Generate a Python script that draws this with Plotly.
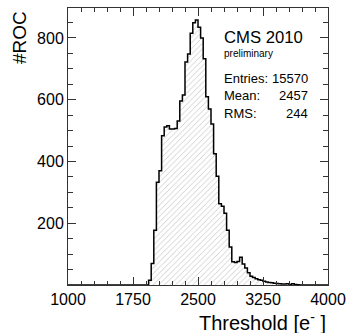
import plotly.graph_objects as go

# Histogram: 100 bins from 1000 to 4000 (bin width 30); counts
bin_lo = 1000
bin_hi = 4000
n_bins = 100
counts_nonzero_start = 1930  # first filled bin (left edge)
counts = [15, 70, 177, 333, 370, 483, 512, 516, 505, 505,
          507, 531, 596, 615, 722, 748, 815, 849, 858, 835,
          800, 733, 610, 570, 521, 425, 352, 263, 255, 232,
          177, 123, 75, 73, 76, 90, 68, 55, 40, 28,
          24, 20, 17, 15, 12, 10, 8, 7, 6, 5,
          4, 3, 3, 4, 2, 4, 2, 1]

x_ticks = [1000, 1750, 2500, 3250, 4000]
y_ticks = [200, 400, 600, 800]

stats_labels = ["Entries:", "Mean:", "RMS:"]
stats_values = ["15570", "2457", "244"]

width = (bin_hi - bin_lo) / n_bins
edges = [bin_lo + i * width for i in range(n_bins + 1)]
first = round((counts_nonzero_start - bin_lo) / width)
full = [0] * n_bins
for i, c in enumerate(counts):
    full[first + i] = c
ys = full + [full[-1]]

FONT = "Liberation Sans, Arial, Helvetica, sans-serif"

fig = go.Figure()
fig.add_trace(go.Scatter(
    x=edges, y=ys, mode="lines", line_shape="hv",
    line=dict(color="black", width=1.5),
    fill="tozeroy",
    fillcolor="rgba(0,0,0,0)",
    fillpattern=dict(shape="/", fgcolor="#8a8a8a", bgcolor="white", size=4, solidity=0.2),
    hoverinfo="skip", showlegend=False,
))

axis_common = dict(
    showline=True, linecolor="#333", linewidth=1, mirror="ticks",
    ticks="inside", tickcolor="#333", tickwidth=1,
    showgrid=False, zeroline=False,
    tickfont=dict(family=FONT, size=16, color="black"),
)
fig.update_xaxes(range=[bin_lo, bin_hi], tickvals=x_ticks, ticklen=8,
                 minor=dict(ticks="inside", ticklen=4, dtick=150, tick0=1000, tickcolor="#333", showgrid=False),
                 **axis_common)
fig.update_yaxes(range=[0, 897], tickvals=y_ticks, ticklen=8,
                 minor=dict(ticks="inside", ticklen=5, dtick=50, tick0=0, tickcolor="#333", showgrid=False),
                 **axis_common)

ann = []
ann.append(dict(text="#ROC", x=-0.187, y=0.996, xref="paper", yref="paper",
                xanchor="center", yanchor="top", textangle=-90, showarrow=False,
                font=dict(family=FONT, size=19, color="black")))
ann.append(dict(text="Threshold [e<sup>-</sup> ]", x=1.0, y=-0.13, xref="paper", yref="paper",
                xanchor="right", yanchor="middle", showarrow=False,
                font=dict(family=FONT, size=20, color="black")))
ann.append(dict(text="CMS 2010", x=0.5925, y=0.892, xref="paper", yref="paper",
                xanchor="left", yanchor="middle", showarrow=False,
                font=dict(family=FONT, size=16.7, color="black")))
ann.append(dict(text="preliminary", x=0.5925, y=0.834, xref="paper", yref="paper",
                xanchor="left", yanchor="middle", showarrow=False,
                font=dict(family=FONT, size=10, color="black")))
ys_stats = [0.745, 0.683, 0.620]
for lab, val, yy in zip(stats_labels, stats_values, ys_stats):
    ann.append(dict(text=lab, x=0.5925, y=yy, xref="paper", yref="paper",
                    xanchor="left", yanchor="middle", showarrow=False,
                    font=dict(family=FONT, size=13, color="black")))
    ann.append(dict(text=val, x=0.932, y=yy, xref="paper", yref="paper",
                    xanchor="right", yanchor="middle", showarrow=False,
                    font=dict(family=FONT, size=13, color="black")))

fig.update_layout(
    width=353, height=333,
    margin=dict(l=68, r=20, t=7, b=48),
    paper_bgcolor="white", plot_bgcolor="white",
    annotations=ann,
    font=dict(family=FONT),
)

fig.write_html("out.html", config={"displayModeBar": False, "staticPlot": True},
               post_script="document.body.style.margin='0';document.body.style.overflow='hidden';")
